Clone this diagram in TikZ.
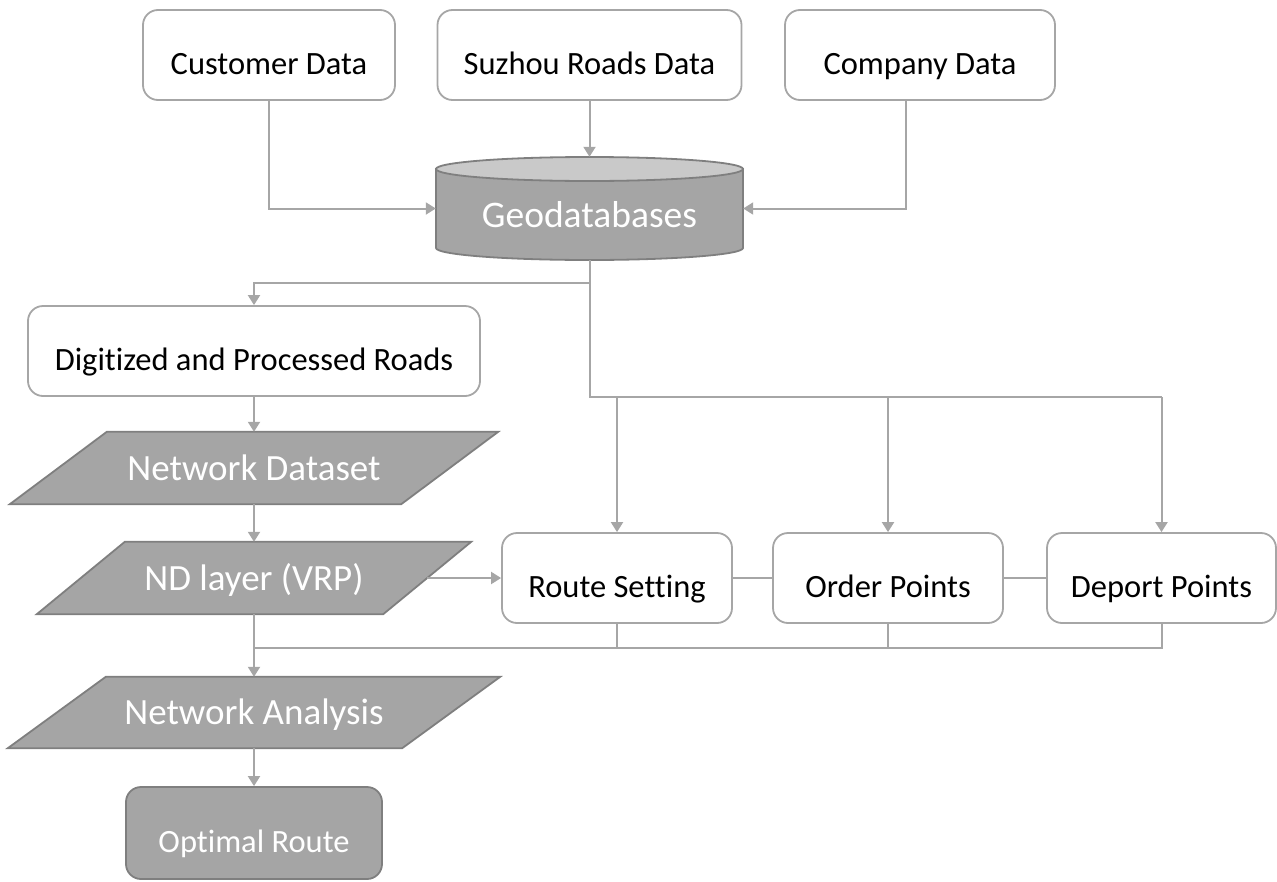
\documentclass[tikz,border=0pt]{standalone}
\usepackage{fontspec}
\setmainfont{Carlito}[Ligatures=CommonOff]
\usetikzlibrary{arrows.meta,calc,backgrounds}
\definecolor{shapegray}{HTML}{A5A5A5}
\definecolor{edgegray}{HTML}{7F7F7F}
\definecolor{linegray}{HTML}{A6A6A6}
\definecolor{topgray}{HTML}{C9C9C9}

\begin{document}
\begin{tikzpicture}[x=1pt,y=-1pt,
  conn/.style={draw=linegray, line width=2pt},
  arr/.style={conn, -{Triangle[length=10pt,width=12pt]}},
  databox/.style={draw=linegray, line width=1.8pt, rounded corners=15pt, fill=white,
    minimum height=90pt, inner sep=0pt,
    font=\fontsize{32.5}{39}\selectfont, text height=38pt, text depth=0pt},
  darkbox/.style={databox, fill=shapegray, draw=edgegray, text=white},
  paratext/.style={minimum height=72pt, inner sep=0pt, text=white,
    font=\fontsize{37}{44}\selectfont, text height=24pt, text depth=0pt},
  parashape/.style={fill=shapegray, draw=edgegray, line width=1.8pt},
  cylbody/.style={fill=shapegray, draw=edgegray, line width=1.8pt},
  cyltop/.style={fill=topgray, draw=edgegray, line width=1.8pt},
]
\useasboundingbox (0,0) rectangle (1277,881);
\clip (0,0) rectangle (1277,881);

% source data boxes
\node[databox, minimum width=252pt] (cust) at (269,55) {Customer Data};
\node[databox, minimum width=304pt] (suz) at (589.5,55) {Suzhou Roads Data};
\node[databox, minimum width=270pt] (comp) at (920,55) {Company Data};

% geodatabase cylinder
\node[minimum width=307pt, minimum height=103pt, inner sep=0pt] (geo) at (589.5,208.5) {};
\filldraw[cylbody] (436,169) -- (436,248)
  arc[start angle=180, end angle=360, x radius=153.5pt, y radius=12pt]
  -- (743,169) -- cycle;
\filldraw[cyltop] (589.5,169) ellipse [x radius=153.5pt, y radius=12pt];
\node[text=white, inner sep=0pt, font=\fontsize{37.5}{45}\selectfont,
  text height=24pt, text depth=0pt] (geolabel) at (589.5,215) {Geodatabases};

% processing chain
\node[databox, minimum width=452pt] (digit) at (254,351) {Digitized and Processed Roads};
\node[paratext, minimum width=391pt] (nd) at (254,468) {Network Dataset};
\node[paratext, minimum width=346pt] (ndl) at (254,578) {ND layer (VRP)};
\node[paratext, minimum width=394pt, minimum height=71pt] (na) at (254,712.5) {Network Analysis};
\node[darkbox, minimum width=256pt, minimum height=92pt] (opt) at (254,833) {Optimal Route};

% VRP inputs
\node[databox, minimum width=230pt] (rs) at (617,578) {Route Setting};
\node[databox, minimum width=230pt] (op) at (888,578) {Order Points};
\node[databox, minimum width=229pt] (dp) at (1161.5,578) {Deport Points};

% parallelogram outlines behind the labels
\begin{scope}[on background layer]
\foreach \n/\s in {nd/48.5, ndl/44, na/49}{
  \filldraw[parashape] ([xshift=\s pt]\n.north west) -- ([xshift=\s pt]\n.north east)
    -- ([xshift=-\s pt]\n.south east) -- ([xshift=-\s pt]\n.south west) -- cycle;
}
\end{scope}

% junction points
\coordinate (j1) at (589.5,283);
\coordinate (j2) at (589.5,397);
\coordinate (j3) at (254,648);

% connectors
\draw[arr] (cust.south) |- (geo.west);
\draw[arr] (suz.south) -- (geo.north);
\draw[arr] ([xshift=-14pt]comp.south) |- (geo.east);

\draw[conn] (geo.south) -- (j1) -- (j2) -- (j2 -| dp.north);
\draw[arr] (j1) -| (digit.north);
\foreach \t in {rs,op,dp}{
  \draw[arr] (j2 -| \t.north) -- (\t.north);
}

\draw[arr] (digit.south) -- (nd.north);
\draw[arr] (nd.south) -- (ndl.north);
\draw[arr] (ndl.east) -- (rs.west);
\draw[conn, line width=1.2pt] (rs.east) -- (op.west);
\draw[conn, line width=1.2pt] (op.east) -- (dp.west);

\draw[conn] (dp.south) |- (j3);
\draw[conn] (rs.south) -- (rs.south |- j3);
\draw[conn] (op.south) -- (op.south |- j3);
\draw[arr] (ndl.south) -- (na.north);
\draw[arr] (na.south) -- (opt.north);
\end{tikzpicture}
\end{document}
